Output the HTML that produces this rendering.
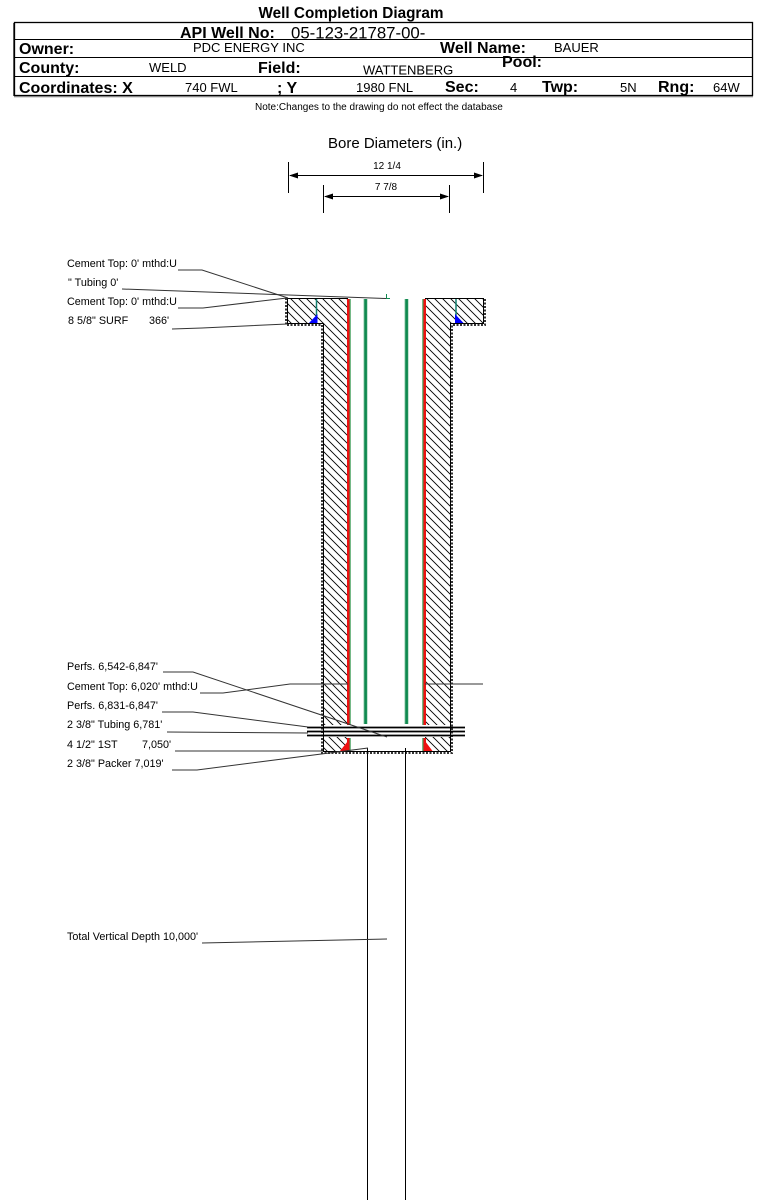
<!DOCTYPE html>
<html><head><meta charset="utf-8"><style>
html,body{margin:0;padding:0;background:#fff;}
svg{display:block;}
text{font-family:"Liberation Sans",Arial,sans-serif;fill:#000;}
.b{font-weight:bold;font-size:16px;}
.r{font-size:13px;}
.l{font-size:10.8px;}
</style></head><body>
<svg width="759" height="1200" viewBox="0 0 759 1200" xmlns="http://www.w3.org/2000/svg">
<defs>
<pattern id="h" width="8" height="8" patternUnits="userSpaceOnUse">
<path d="M0,0 L8,8 M-1,7 L1,9 M7,-1 L9,1" stroke="#000" stroke-width="0.9"/>
</pattern>
</defs>

<!-- Title -->
<text x="351" y="18" text-anchor="middle" style="font-weight:bold;font-size:15.3px">Well Completion Diagram</text>

<!-- Table -->
<rect x="14.5" y="22.5" width="738" height="73" fill="none" stroke="#000" stroke-width="1.3"/>
<line x1="13.5" y1="23" x2="13.5" y2="96" stroke="#555" stroke-width="1"/>
<line x1="14" y1="96.8" x2="753" y2="96.8" stroke="#777" stroke-width="1"/>
<line x1="14" y1="39.5" x2="753" y2="39.5" stroke="#000" stroke-width="1"/>
<line x1="14" y1="57.5" x2="753" y2="57.5" stroke="#000" stroke-width="1"/>
<line x1="14" y1="76.5" x2="753" y2="76.5" stroke="#000" stroke-width="1"/>

<text x="180" y="38" class="b">API Well No:</text>
<text x="291" y="38.5" style="font-size:16.8px">05-123-21787-00-</text>

<text x="19" y="54" class="b">Owner:</text>
<text x="193" y="52" class="r">PDC ENERGY INC</text>
<text x="440" y="53" class="b">Well Name:</text>
<text x="554" y="52" class="r">BAUER</text>

<text x="19" y="73" class="b">County:</text>
<text x="149" y="72" class="r">WELD</text>
<text x="258" y="73" class="b">Field:</text>
<text x="363" y="74.5" class="r">WATTENBERG</text>
<text x="502" y="67" class="b">Pool:</text>

<text x="19" y="93" class="b">Coordinates: X</text>
<text x="185" y="92" class="r">740 FWL</text>
<text x="277" y="93" class="b">; Y</text>
<text x="356" y="92" class="r">1980 FNL</text>
<text x="445" y="92" class="b">Sec:</text>
<text x="510" y="92" class="r">4</text>
<text x="542" y="92" class="b">Twp:</text>
<text x="620" y="92" class="r">5N</text>
<text x="658" y="92" class="b">Rng:</text>
<text x="713" y="92" class="r">64W</text>

<text x="255" y="110" style="font-size:10px">Note:Changes to the drawing do not effect the database</text>

<!-- Bore diameters -->
<text x="328" y="148" style="font-size:15px">Bore Diameters (in.)</text>
<text x="387" y="169" text-anchor="middle" style="font-size:10px">12 1/4</text>
<text x="386" y="190" text-anchor="middle" style="font-size:10px">7 7/8</text>
<g stroke="#000" stroke-width="1">
<line x1="288.5" y1="162" x2="288.5" y2="193"/>
<line x1="483.5" y1="162" x2="483.5" y2="193"/>
<line x1="290" y1="175.5" x2="482" y2="175.5"/>
<line x1="323.5" y1="185" x2="323.5" y2="213"/>
<line x1="449.5" y1="185" x2="449.5" y2="213"/>
<line x1="325" y1="196.5" x2="448" y2="196.5"/>
</g>
<g fill="#000">
<polygon points="289,175.5 298,172.5 298,178.5"/>
<polygon points="483,175.5 474,172.5 474,178.5"/>
<polygon points="324,196.5 333,193.5 333,199.5"/>
<polygon points="449,196.5 440,193.5 440,199.5"/>
</g>

<!-- Well hatch -->
<path d="M287,298 H348 V751 H323 V323 H287 Z" fill="url(#h)"/>
<path d="M425,298 H483 V323 H451 V751 H425 Z" fill="url(#h)"/>
<rect x="324" y="725" width="126" height="12" fill="#fff"/>

<!-- top solid lines -->
<line x1="287" y1="298.5" x2="348" y2="298.5" stroke="#000" stroke-width="1"/>
<line x1="425" y1="298.5" x2="483" y2="298.5" stroke="#000" stroke-width="1"/>

<!-- outline -->
<path d="M287.5,298 V323.5 H323.5 V751.5 H450.5 V323.5 H483.5 V298" fill="none" stroke="#000" stroke-width="1"/>
<path d="M286,298 V325 H322 V753 H452 V325 H485 V298" fill="none" stroke="#333" stroke-width="2" stroke-dasharray="2 1.5"/>

<!-- surface casing -->
<line x1="316.5" y1="299" x2="316.5" y2="323" stroke="#138070" stroke-width="1.5"/>
<polygon points="309,323 317.5,323 317.5,314" fill="#0000ff"/>
<line x1="456" y1="299" x2="456" y2="323" stroke="#138070" stroke-width="1.5"/>
<polygon points="455,314 455,323 463.5,323" fill="#0000ff"/>

<!-- production casing (red) -->
<rect x="347" y="299" width="2.6" height="426" fill="#ee1111"/>
<rect x="349.6" y="299" width="1" height="426" fill="#1a8a3a"/>
<rect x="347" y="738" width="2.6" height="13" fill="#ee1111"/>
<rect x="349.6" y="738" width="1" height="13" fill="#1a8a3a"/>
<polygon points="340,751 349.5,751 349.5,739" fill="#ee1111"/>
<rect x="423.4" y="299" width="2.6" height="426" fill="#ee1111"/>
<rect x="422.4" y="299" width="1" height="426" fill="#1a8a3a"/>
<rect x="423.4" y="738" width="2.6" height="13" fill="#ee1111"/>
<rect x="422.4" y="738" width="1" height="13" fill="#1a8a3a"/>
<polygon points="423.5,739 423.5,751 432.5,751" fill="#ee1111"/>

<!-- tubing -->
<rect x="363.5" y="299" width="4" height="425" fill="#8fc9a8"/>
<rect x="364.3" y="299" width="2.6" height="425" fill="#0f8a50"/>
<rect x="404.5" y="299" width="4" height="425" fill="#8fc9a8"/>
<rect x="405.3" y="299" width="2.6" height="425" fill="#0f8a50"/>
<path d="M386.5,294 V298.5 H390" fill="none" stroke="#0f8a50" stroke-width="1"/>

<!-- packer lines -->
<g stroke="#000" stroke-width="1.7">
<line x1="307" y1="727.5" x2="465" y2="727.5"/>
<line x1="307" y1="731.5" x2="465" y2="731.5"/>
<line x1="307" y1="735.5" x2="465" y2="735.5"/>
</g>

<!-- hole below -->
<line x1="367.5" y1="748" x2="367.5" y2="1200" stroke="#000" stroke-width="1"/>
<line x1="405.5" y1="748" x2="405.5" y2="1200" stroke="#000" stroke-width="1"/>

<!-- Leader lines -->
<g fill="none" stroke="#333" stroke-width="1">
<polyline points="178,270 202,270 288,298"/>
<polyline points="122,289 386,298.5"/>
<polyline points="178,308 203,308 287,298"/>
<polyline points="172,329 202,328 287,324"/>
<polyline points="163,672 193,672 387,737"/>
<polyline points="200,693 223,693 290,684 348,684"/>
<line x1="425" y1="684" x2="483" y2="684"/>
<polyline points="162,712 193,712 308,727"/>
<polyline points="167,732 308,733"/>
<polyline points="175,751 323,751"/>
<polyline points="172,770 197,770 368,748"/>
<polyline points="202,943 387,939"/>
</g>

<!-- Labels -->
<text x="67" y="267" class="l">Cement Top: 0' mthd:U</text>
<text x="68" y="286" class="l">" Tubing 0'</text>
<text x="67" y="305" class="l">Cement Top: 0' mthd:U</text>
<text x="68" y="324" class="l">8 5/8" SURF</text>
<text x="149" y="324" class="l">366'</text>

<text x="67" y="670" class="l">Perfs. 6,542-6,847'</text>
<text x="67" y="690" class="l">Cement Top: 6,020' mthd:U</text>
<text x="67" y="709" class="l">Perfs. 6,831-6,847'</text>
<text x="67" y="728" class="l">2 3/8" Tubing 6,781'</text>
<text x="67" y="748" class="l">4 1/2" 1ST</text>
<text x="142" y="748" class="l">7,050'</text>
<text x="67" y="767" class="l">2 3/8" Packer 7,019'</text>

<text x="67" y="940" class="l">Total Vertical Depth 10,000'</text>
</svg>
</body></html>
